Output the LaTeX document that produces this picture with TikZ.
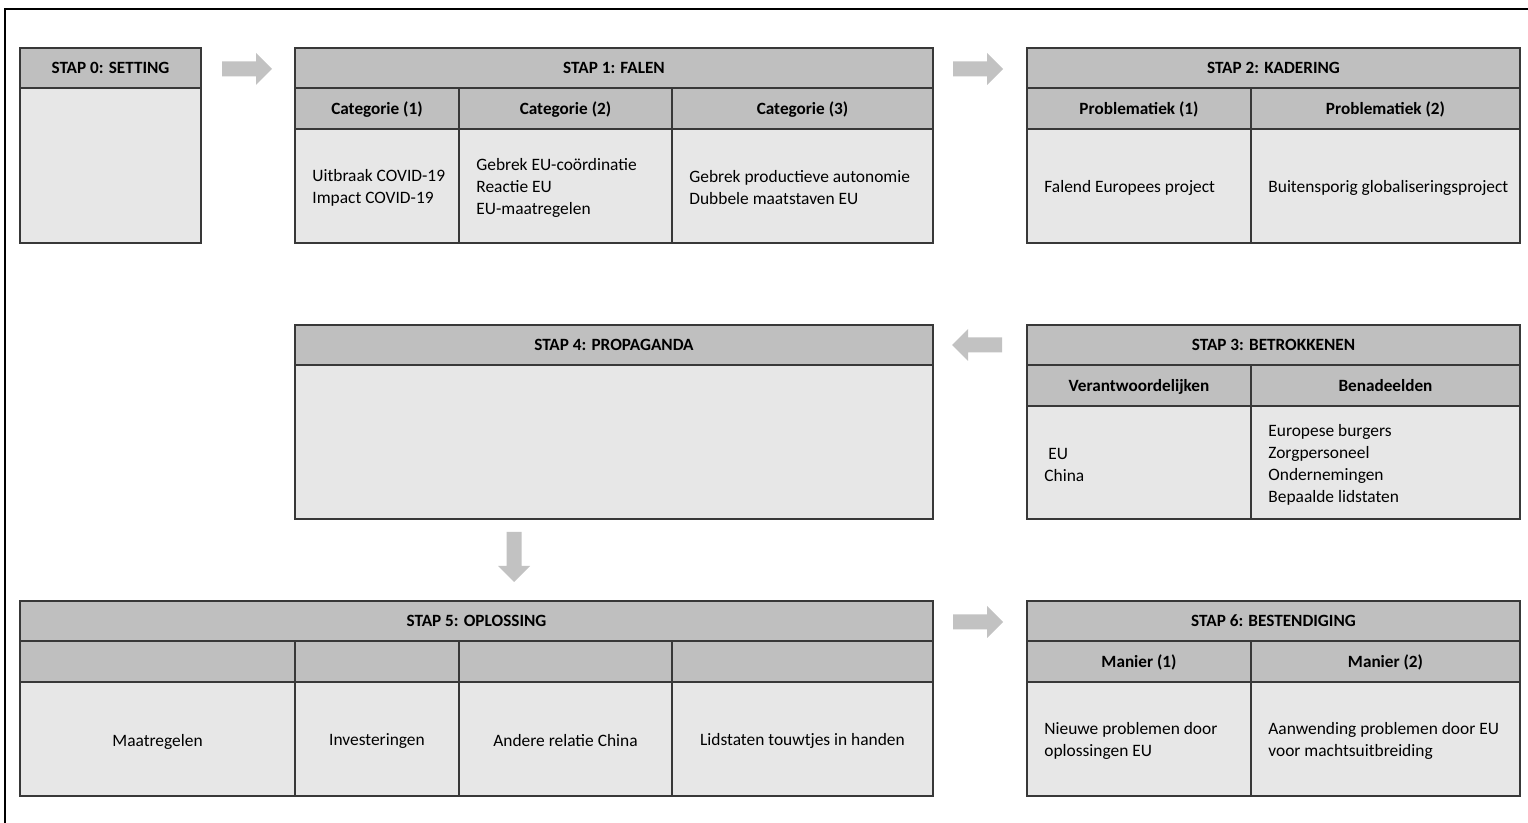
\documentclass[tikz,border=0pt]{standalone}
\usepackage{fontspec}
\setmainfont{Carlito}
\usepackage{xcolor}
\usepackage{tikz}
\usetikzlibrary{arrows.meta}

\definecolor{headgray}{HTML}{BFBFBF}
\definecolor{bodygray}{HTML}{E7E7E7}
\definecolor{arrowgray}{HTML}{C2C2C2}
\definecolor{linegray}{HTML}{383838}

\tikzset{
	cell/.style={draw=linegray, line width=0.7pt, inner sep=0pt, outer sep=0pt,
		anchor=north west},
	head/.style={cell, fill=headgray, font=\fontsize{8.6}{11}\selectfont\bfseries,
		minimum height=20pt, text height=7pt, text depth=1.4pt},
	sub/.style={head, minimum height=20.5pt},
	body/.style={cell, fill=bodygray},
	txt/.style={anchor=west, align=left, inner sep=0pt, yshift=-1pt,
		font=\fontsize{8.7}{11}\selectfont},
	ctxt/.style={txt, anchor=center, align=center},
	pics/flow/.style={code={
		\fill[arrowgray] (-25,-7.5) -- (9,-7.5) -- (9,-16) -- (25,0)
			-- (9,16) -- (9,7.5) -- (-25,7.5) -- cycle;}}
}

\begin{document}
\begin{tikzpicture}[x=0.5pt, y=-0.5pt]
	\useasboundingbox (0,0) rectangle (1528,823);
	% frame
	\draw[line width=1pt] (5,823) -- (5,9) -- (1528,9);

	% stap 0
	\node[head, minimum width=90.5pt] (s0h) at (20,48) {STAP 0: SETTING};
	\node[body, minimum width=90.5pt, minimum height=77.5pt] (s0b) at (20,88) {};

	% stap 1
	\node[head, minimum width=319pt] (s1h) at (295,48) {STAP 1: FALEN};
	\node[sub, minimum width=82pt] (s1k1) at (295,88) {Categorie (1)};
	\node[sub, minimum width=106.5pt] (s1k2) at (459,88) {Categorie (2)};
	\node[sub, minimum width=130.5pt] (s1k3) at (672,88) {Categorie (3)};
	\node[body, minimum width=82pt, minimum height=57pt] (s1b1) at (295,129) {};
	\node[body, minimum width=106.5pt, minimum height=57pt] (s1b2) at (459,129) {};
	\node[body, minimum width=130.5pt, minimum height=57pt] (s1b3) at (672,129) {};
	\node[txt] (t1b1) at ([xshift=8.5pt]s1b1.west)
		{Uitbraak COVID-19\\Impact COVID-19};
	\node[txt] (t1b2) at ([xshift=8.5pt]s1b2.west)
		{Gebrek EU-coördinatie\\Reactie EU\\EU-maatregelen};
	\node[txt] (t1b3) at ([xshift=8.5pt]s1b3.west)
		{Gebrek productieve autonomie\\Dubbele maatstaven EU};

	% stap 2
	\node[head, minimum width=246.5pt] (s2h) at (1027,48) {STAP 2: KADERING};
	\node[sub, minimum width=112pt] (s2k1) at (1027,88) {Problematiek (1)};
	\node[sub, minimum width=134.5pt] (s2k2) at (1251,88) {Problematiek (2)};
	\node[body, minimum width=112pt, minimum height=57pt] (s2b1) at (1027,129) {};
	\node[body, minimum width=134.5pt, minimum height=57pt] (s2b2) at (1251,129) {};
	\node[txt] (t2b1) at ([xshift=8.5pt]s2b1.west) {Falend Europees project};
	\node[txt] (t2b2) at ([xshift=8.5pt]s2b2.west) {Buitensporig globaliseringsproject};

	% stap 3
	\node[head, minimum width=246.5pt] (s3h) at (1027,325) {STAP 3: BETROKKENEN};
	\node[sub, minimum width=112pt] (s3k1) at (1027,365) {Verantwoordelijken};
	\node[sub, minimum width=134.5pt] (s3k2) at (1251,365) {Benadeelden};
	\node[body, minimum width=112pt, minimum height=56.5pt] (s3b1) at (1027,406) {};
	\node[body, minimum width=134.5pt, minimum height=56.5pt] (s3b2) at (1251,406) {};
	\node[txt] (t3b1) at ([xshift=8.5pt]s3b1.west) {\hspace{2pt}EU\\China};
	\node[txt] (t3b2) at ([xshift=8.5pt]s3b2.west)
		{Europese burgers\\Zorgpersoneel\\Ondernemingen\\Bepaalde lidstaten};

	% stap 4
	\node[head, minimum width=319pt] (s4h) at (295,325) {STAP 4: PROPAGANDA};
	\node[body, minimum width=319pt, minimum height=77pt] (s4b) at (295,365) {};

	% stap 5
	\node[head, minimum width=456.5pt] (s5h) at (20,601) {STAP 5: OPLOSSING};
	\node[sub, minimum width=137.5pt] (s5k1) at (20,641) {};
	\node[sub, minimum width=82pt] (s5k2) at (295,641) {};
	\node[sub, minimum width=106.5pt] (s5k3) at (459,641) {};
	\node[sub, minimum width=130.5pt] (s5k4) at (672,641) {};
	\node[body, minimum width=137.5pt, minimum height=57pt] (s5b1) at (20,682) {};
	\node[body, minimum width=82pt, minimum height=57pt] (s5b2) at (295,682) {};
	\node[body, minimum width=106.5pt, minimum height=57pt] (s5b3) at (459,682) {};
	\node[body, minimum width=130.5pt, minimum height=57pt] (s5b4) at (672,682) {};
	\node[ctxt] (t5b1) at ([yshift=-0.5pt]s5b1.center) {Maatregelen};
	\node[ctxt] (t5b2) at (s5b2.center) {Investeringen};
	\node[ctxt] (t5b3) at (s5b3.center) {Andere relatie China};
	\node[ctxt] (t5b4) at (s5b4.center) {Lidstaten touwtjes in handen};

	% stap 6
	\node[head, minimum width=246.5pt] (s6h) at (1027,601) {STAP 6: BESTENDIGING};
	\node[sub, minimum width=112pt] (s6k1) at (1027,641) {Manier (1)};
	\node[sub, minimum width=134.5pt] (s6k2) at (1251,641) {Manier (2)};
	\node[body, minimum width=112pt, minimum height=57pt] (s6b1) at (1027,682) {};
	\node[body, minimum width=134.5pt, minimum height=57pt] (s6b2) at (1251,682) {};
	\node[txt] (t6b1) at ([xshift=8.5pt]s6b1.west)
		{Nieuwe problemen door\\oplossingen EU};
	\node[txt] (t6b2) at ([xshift=8.5pt]s6b2.west)
		{Aanwending problemen door EU\\voor machtsuitbreiding};

	% arrows
	\pic at (247,69) {flow};
	\pic at (978,69) {flow};
	\pic[rotate=180] at (977,345) {flow};
	\pic[rotate=-90] at (514,557) {flow};
	\pic at (978,622) {flow};
\end{tikzpicture}
\end{document}
